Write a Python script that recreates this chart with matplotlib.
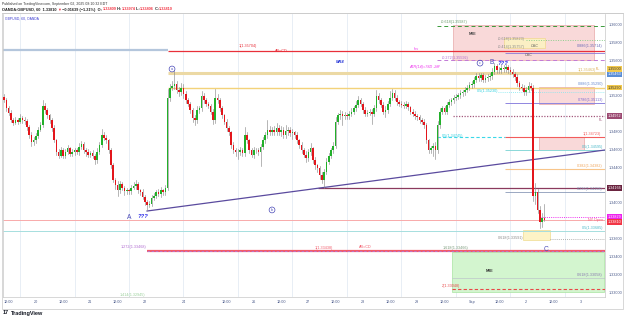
import matplotlib
matplotlib.use("Agg")
import matplotlib.pyplot as plt
import matplotlib.transforms as mtransforms
from matplotlib.patches import Rectangle
from matplotlib.lines import Line2D
import pandas as pd

plt.rcParams['font.family'] = ['Liberation Sans', 'DejaVu Sans']

# ------------------------------------------------------------------ data
# hourly bars (New York time, weekend gaps removed)
bar_times = (list(pd.date_range("2025-08-19 10:00", "2025-08-22 16:00", freq="h"))
             + list(pd.date_range("2025-08-24 17:00", "2025-08-29 16:00", freq="h"))
             + list(pd.date_range("2025-08-31 17:00", "2025-09-03 13:00", freq="h")))
bar_index = {t: i for i, t in enumerate(bar_times)}

first_open = 1.3519
closes = [
    1.3515, 1.3506, 1.3501, 1.3493, 1.3490, 1.3493, 1.3491, 1.3495, 1.3493, 1.3492,
    1.3485, 1.3476, 1.3468, 1.3470, 1.3475, 1.3482, 1.3487, 1.3509, 1.3504, 1.3498,
    1.3493, 1.3484, 1.3470, 1.3457, 1.3453, 1.3459, 1.3453, 1.3457, 1.3461, 1.3455,
    1.3457, 1.3459, 1.3457, 1.3463, 1.3466, 1.3459, 1.3457, 1.3454, 1.3456, 1.3453,
    1.3448, 1.3457, 1.3465, 1.3476, 1.3473, 1.3470, 1.3459, 1.3442, 1.3426, 1.3420,
    1.3414, 1.3421, 1.3417, 1.3413, 1.3414, 1.3413, 1.3417, 1.3419, 1.3421, 1.3414,
    1.3412, 1.3407, 1.3401, 1.3398, 1.3399, 1.3405, 1.3408, 1.3412, 1.3410, 1.3414,
    1.3412, 1.3417, 1.3518, 1.3529, 1.3531, 1.3533, 1.3527, 1.3524, 1.3529, 1.3522,
    1.3515, 1.3511, 1.3504, 1.3495, 1.3493, 1.3504, 1.3506, 1.3520, 1.3515, 1.3511,
    1.3509, 1.3502, 1.3493, 1.3518, 1.3515, 1.3506, 1.3498, 1.3491, 1.3484, 1.3479,
    1.3465, 1.3459, 1.3457, 1.3457, 1.3459, 1.3456, 1.3476, 1.3470, 1.3459, 1.3454,
    1.3459, 1.3459, 1.3457, 1.3463, 1.3470, 1.3476, 1.3482, 1.3479, 1.3482, 1.3479,
    1.3484, 1.3479, 1.3482, 1.3476, 1.3481, 1.3482, 1.3478, 1.3479, 1.3476, 1.3470,
    1.3465, 1.3459, 1.3454, 1.3450, 1.3457, 1.3461, 1.3448, 1.3442, 1.3439, 1.3431,
    1.3426, 1.3435, 1.3446, 1.3453, 1.3459, 1.3464, 1.3491, 1.3498, 1.3500, 1.3497,
    1.3498, 1.3497, 1.3500, 1.3502, 1.3506, 1.3510, 1.3515, 1.3511, 1.3504, 1.3500,
    1.3501, 1.3502, 1.3500, 1.3506, 1.3520, 1.3515, 1.3510, 1.3502, 1.3504, 1.3511,
    1.3518, 1.3523, 1.3518, 1.3513, 1.3511, 1.3510, 1.3509, 1.3511, 1.3507, 1.3502,
    1.3500, 1.3497, 1.3496, 1.3493, 1.3491, 1.3487, 1.3470, 1.3459, 1.3461, 1.3464,
    1.3459, 1.3487, 1.3502, 1.3506, 1.3502, 1.3510, 1.3513, 1.3515, 1.3518, 1.3519,
    1.3521, 1.3523, 1.3524, 1.3527, 1.3529, 1.3532, 1.3533, 1.3538, 1.3542, 1.3540,
    1.3543, 1.3538, 1.3540, 1.3541, 1.3542, 1.3547, 1.3553, 1.3549, 1.3549, 1.3551,
    1.3550, 1.3552, 1.3549, 1.3547, 1.3544, 1.3541, 1.3534, 1.3530, 1.3529, 1.3524,
    1.3527, 1.3531, 1.3529, 1.3408, 1.3412, 1.3392, 1.3379, 1.3383, 1.3381,
]
# wick lengths in pips beyond the candle body
wick_up = [
    3, 2, 2, 3, 2, 3, 2, 4, 2, 3, 2, 2, 3, 4, 3, 3, 4, 6, 3, 2,
    2, 2, 3, 2, 3, 4, 2, 3, 4, 2, 3, 2, 3, 4, 3, 2, 2, 3, 2, 3,
    2, 4, 3, 7, 3, 3, 2, 2, 3, 2, 4, 3, 2, 2, 3, 2, 3, 4, 5, 2,
    2, 3, 2, 2, 3, 4, 3, 2, 3, 4, 2, 3, 10, 4, 5, 16, 4, 3, 5, 4,
    3, 3, 2, 2, 3, 4, 3, 5, 3, 3, 2, 2, 3, 10, 4, 3, 2, 2, 3, 2,
    2, 3, 2, 3, 4, 3, 9, 3, 2, 2, 4, 3, 2, 3, 4, 3, 11, 4, 3, 4,
    5, 3, 4, 3, 6, 3, 3, 4, 2, 3, 2, 3, 2, 4, 3, 6, 2, 3, 2, 2,
    3, 3, 4, 3, 3, 4, 5, 3, 4, 3, 4, 3, 3, 4, 3, 4, 5, 3, 2, 3,
    3, 3, 3, 4, 7, 3, 2, 3, 4, 3, 7, 5, 3, 3, 2, 3, 3, 3, 2, 2,
    3, 3, 2, 2, 2, 3, 2, 2, 3, 3, 4, 5, 4, 3, 3, 3, 3, 3, 3, 3,
    2, 3, 3, 3, 3, 3, 3, 3, 4, 4, 3, 3, 3, 3, 3, 4, 4, 3, 3, 5,
    3, 4, 3, 3, 3, 3, 3, 2, 3, 3, 3, 4, 3, 3, 10, 4, 4, 6, 16,
]
wick_dn = [
    2, 3, 3, 2, 3, 2, 3, 2, 3, 4, 3, 3, 4, 3, 3, 2, 2, 2, 3, 3,
    3, 3, 2, 3, 3, 2, 3, 3, 2, 3, 2, 3, 2, 3, 3, 3, 4, 3, 3, 3,
    4, 3, 2, 2, 3, 3, 3, 3, 3, 4, 6, 3, 3, 4, 3, 3, 3, 2, 3, 3,
    3, 3, 3, 6, 3, 3, 2, 3, 2, 3, 3, 3, 3, 4, 3, 3, 4, 4, 3, 4,
    3, 3, 3, 4, 6, 3, 3, 3, 3, 3, 3, 3, 5, 3, 3, 3, 3, 3, 3, 3,
    3, 3, 4, 8, 3, 3, 3, 3, 3, 3, 4, 3, 3, 16, 3, 3, 3, 3, 3, 3,
    3, 3, 4, 3, 3, 5, 3, 6, 3, 3, 3, 3, 3, 4, 3, 3, 3, 4, 5, 4,
    4, 9, 3, 3, 3, 3, 3, 3, 4, 10, 3, 3, 3, 3, 3, 3, 3, 3, 3, 3,
    3, 3, 12, 3, 3, 3, 3, 3, 6, 3, 3, 3, 3, 3, 3, 3, 3, 3, 3, 3,
    3, 3, 3, 3, 3, 3, 3, 3, 3, 9, 10, 3, 3, 3, 3, 3, 3, 3, 3, 3,
    3, 3, 3, 3, 3, 3, 3, 3, 3, 3, 3, 3, 3, 3, 3, 3, 3, 3, 3, 3,
    3, 3, 3, 3, 3, 3, 3, 3, 3, 3, 3, 3, 3, 6, 9, 3, 7, 6, 1,
]

tick_times = ["2025-08-19 12:00", "2025-08-20 00:00", "2025-08-20 12:00", "2025-08-21 00:00",
              "2025-08-21 12:00", "2025-08-22 00:00", "2025-08-24 17:00", "2025-08-25 12:00",
              "2025-08-26 00:00", "2025-08-26 12:00", "2025-08-27 00:00", "2025-08-27 12:00",
              "2025-08-28 00:00", "2025-08-28 12:00", "2025-08-29 00:00", "2025-08-29 12:00",
              "2025-09-01 00:00", "2025-09-01 12:00", "2025-09-02 00:00", "2025-09-02 12:00",
              "2025-09-03 00:00"]
tick_labels = ["12:00", "20", "12:00", "21", "12:00", "22", "24", "12:00", "26", "12:00",
               "27", "12:00", "28", "12:00", "29", "12:00", "Sep", "12:00", "2", "12:00", "3"]
grid_times = ["2025-08-19 17:00", "2025-08-20 17:00", "2025-08-21 17:00", "2025-08-24 17:00",
              "2025-08-25 17:00", "2025-08-26 17:00", "2025-08-27 17:00", "2025-08-28 17:00",
              "2025-08-31 17:00", "2025-09-01 17:00", "2025-09-02 17:00"]

price_ticks = [1.360, 1.358, 1.356, 1.352, 1.348, 1.346, 1.344, 1.340, 1.336, 1.334, 1.332, 1.330]
axis_tags = [(1.3550, "1.35500", "#f2c94c", "#333333"),
             (1.3544, "1.35463", "#5b8ed6", "white"),
             (1.3529, "1.35290", "#f2c94c", "#333333"),
             (1.34972, "1.34972", "#9c4a72", "white"),
             (1.34166, "1.34166", "#6b2440", "white"),
             (1.33841, "1.33829", "#ee22ee", "white"),
             (1.33785, "1.33810", "#f23645", "white")]

# ------------------------------------------------------------------ figure
W, H = 625, 319
fig = plt.figure(figsize=(W / 100, H / 100), dpi=100)
fig.patch.set_facecolor("white")


def fx(px):
    return px / W


def fy(py):
    return 1 - py / H


ax = fig.add_axes([fx(3), fy(297), fx(605) - fx(3), fy(14) - fy(297)])
ax.set_xlim(-0.5, 264.7)
ax.set_ylim(1.329441, 1.361166)

for t in grid_times:
    ax.axvline(bar_index[pd.Timestamp(t)], color="#e4ebf4", lw=0.6, zorder=0)

# ---- drawings behind the candles
abx = lambda px: (px - 4.1) / 2.27   # chart pixel column -> bar position

boxes = [  # (x0, x1, bottom, top, face, edge)
    (453, 594, 1.35601, 1.35993, "#f9d9d9", "#e8a8a8"),
    (504, 545, 1.35736, 1.35848, "#fbefc4", "#f0d890"),
    (539, 594, 1.35108, 1.35298, "#f9d9d9", "#e8a8a8"),
    (539, 584, 1.34592, 1.34738, "#f9d9d9", "#e8a8a8"),
    (523, 550, 1.33583, 1.33695, "#fdf3c6", "#f0dc90"),
    (452, 604, 1.33000, 1.33449, "#d3f5cf", "#a8e4a0"),
]
for x0, x1, b, t, fc, ec in boxes:
    ax.add_patch(Rectangle((abx(x0), b), abx(x1) - abx(x0), t - b, fc=fc, ec=ec, lw=0.5, zorder=1))

levels = [  # (x0, x1, price, color, lw, linestyle)
    (3, 168, 1.35713, "#b4c6dc", 1.6, "-"),
    (168, 605, 1.35704, "#e8303a", 0.9, "-"),
    (505, 605, 1.35680, "#8a7ad6", 0.6, "-"),
    (437, 605, 1.35987, "#3a9a3a", 0.7, (0, (4, 3))),
    (526, 605, 1.35823, "#8ccf8c", 0.7, (0, (1, 1.5))),
    (437, 605, 1.35600, "#c27ad6", 0.7, (0, (4, 3))),
    (168, 605, 1.35460, "#ecd9a4", 2.2, "-"),
    (168, 605, 1.35290, "#f3d27a", 1.0, "-"),
    (498, 605, 1.35242, "#7de8f0", 0.6, (0, (1, 1.5))),
    (505, 605, 1.35119, "#8f86e0", 0.7, "-"),
    (453, 605, 1.34973, "#a2587c", 0.9, (0, (1, 1.2))),
    (437, 505, 1.34738, "#3ad8e8", 0.8, (0, (3, 2))),
    (505, 605, 1.34738, "#f25c5c", 0.8, "-"),
    (505, 605, 1.34592, "#8ad8d8", 0.7, "-"),
    (505, 605, 1.34379, "#f8c58a", 0.8, "-"),
    (318, 605, 1.34166, "#8b3a5e", 0.9, "-"),
    (505, 605, 1.34121, "#8a9ab8", 0.6, "-"),
    (540, 605, 1.33841, "#ee33ee", 0.7, (0, (1, 1.2))),
    (3, 605, 1.33810, "#f8aaaa", 0.7, "-"),
    (3, 605, 1.33684, "#a6dede", 0.7, "-"),
    (550, 605, 1.33594, "#9a9a9a", 0.6, (0, (1, 1.5))),
    (147, 605, 1.33460, "#f25a6a", 1.6, "-"),
    (147, 605, 1.33460, "#b57ad6", 0.6, (0, (3, 2))),
    (452, 605, 1.33157, "#b8b8c8", 0.4, "-"),
    (452, 605, 1.33034, "#e84848", 0.8, (0, (3, 2))),
]
for x0, x1, p, c, lw, ls in levels:
    ax.plot([abx(x0), abx(x1)], [p, p], color=c, lw=lw, ls=ls, zorder=2, solid_capstyle="butt")

# trend line under the lows
trend_x = [abx(147), abx(605)]
trend_y = [1.33908, 1.34592]
ax.plot(trend_x, trend_y, color="#5a4a9e", lw=0.9, zorder=2)

# ---- candles
opens = [first_open] + closes[:-1]
for i, (o, c) in enumerate(zip(opens, closes)):
    hi = max(o, c) + wick_up[i] * 1e-4
    lo = min(o, c) - wick_dn[i] * 1e-4
    col = "#22b02a" if c >= o else "#e3161c"
    ax.plot([i, i], [lo, hi], color="#8c8c8c", lw=0.45, zorder=3)
    ax.bar(i, max(abs(c - o), 0.00004), bottom=min(o, c), width=0.7, color=col, lw=0, zorder=4)

# ---- text on drawings
fs = 2.7
txt = [  # (px, price, text, color, ha, va)
    (257, 1.35730, "1(1.35704)", "#e8303a", "right", "bottom"),
    (281, 1.35704, "AB=CD", "#e8303a", "center", "center"),
    (416, 1.35725, "Inv", "#ee33ee", "center", "center"),
    (468, 1.36003, "-0.618(1.35987)", "#6a9a6a", "right", "bottom"),
    (525, 1.35840, "-0.618(1.35823)", "#8a8a8a", "right", "center"),
    (525, 1.35745, "-0.414(1.35757)", "#8a8a8a", "right", "center"),
    (469, 1.35625, "-0.272(1.35592)", "#b06ad0", "right", "center"),
    (603, 1.35730, "0.886(1.35714)", "#6a6ab8", "right", "bottom"),
    (596, 1.35470, "1(1.35463)", "#d8b45a", "right", "bottom"),
    (603, 1.35305, "0.886(1.35290)", "#6a8ad0", "right", "bottom"),
    (498, 1.35255, "0.5(1.35230)", "#2ad0e0", "right", "center"),
    (603, 1.35130, "0.786(1.35113)", "#7a6ad0", "right", "bottom"),
    (603, 1.34955, "FL", "#a2587c", "right", "top"),
    (600, 1.35500, "FL", "#e0a040", "right", "center"),
    (463, 1.34750, "0.5(1.34745)", "#2ad0e0", "right", "center"),
    (601, 1.34750, "1(1.34723)", "#f25c5c", "right", "bottom"),
    (603, 1.34605, "0.5(1.34595)", "#4ab8c8", "right", "bottom"),
    (603, 1.34392, "0.382(1.34382)", "#f0a860", "right", "bottom"),
    (603, 1.34130, "0.236(1.34158)", "#7a8ab0", "right", "bottom"),
    (603, 1.33830, "NY Open", "#f25c7c", "right", "top"),
    (603, 1.33697, "0.5(1.33685)", "#4ab8c8", "right", "bottom"),
    (523, 1.33605, "0.618(1.33591)", "#8a8a8a", "right", "center"),
    (146, 1.33480, "1.272(1.33468)", "#b06ad0", "right", "bottom"),
    (333, 1.33472, "1(1.33438)", "#f25a6a", "right", "bottom"),
    (365, 1.33480, "AB=CD", "#f25a6a", "center", "bottom"),
    (468, 1.33472, "1.618(1.33466)", "#7a9a7a", "right", "bottom"),
    (603, 1.33168, "0.618(1.33058)", "#8a7ab0", "right", "bottom"),
    (460, 1.33048, "2(1.33048)", "#e84848", "right", "bottom"),
    (145, 1.32948, "1.414(1.32945)", "#9ad09a", "right", "bottom"),
]
for px, p, s, c, ha, va in txt:
    ax.text(abx(px), p, s, color=c, fontsize=fs, ha=ha, va=va, zorder=6)

ax.text(abx(473), 1.35890, "NRE", color="#444444", fontsize=2.6, fontweight="bold", ha="center", va="center")
ax.text(abx(535), 1.35760, "OSC", color="#555555", fontsize=2.6, style="italic", ha="center", va="center")
ax.text(abx(529), 1.35655, "OSC", color="#555555", fontsize=2.6, style="italic", ha="center", va="center")
ax.text(abx(490), 1.33234, "NRE", color="#333333", fontsize=2.6, fontweight="bold", ha="center", va="center")
ax.text(abx(340), 1.35578, "MR4", color="#2a3ad8", fontsize=3, fontweight="bold", style="italic", ha="center", va="center")
ax.text(abx(424), 1.35522, "ATR(14)=78D .2fff", color="#ee33ee", fontsize=2.7, style="italic", ha="center", va="center")

# wave labels
wave = "#4a4ab8"
ax.text(abx(129), 1.33830, "A", color=wave, fontsize=4.8, ha="center", va="center")
ax.text(abx(143), 1.33842, "???", color="#2a2ae8", fontsize=4.2, fontweight="bold", style="italic", ha="center", va="center")
ax.text(abx(492), 1.35578, "B", color=wave, fontsize=4.8, ha="center", va="center")
ax.text(abx(503), 1.35566, "???", color="#2a2ae8", fontsize=4.2, fontweight="bold", style="italic", ha="center", va="center")
ax.text(abx(546), 1.33471, "C", color=wave, fontsize=4.8, ha="center", va="center")
for px, p, s in [(172, 1.35500, "a"), (272, 1.33920, "b"), (480, 1.35566, "c")]:
    ax.text(abx(px), p, s, color=wave, fontsize=2.6, ha="center", va="center",
            bbox=dict(boxstyle="circle,pad=0.25", fc="none", ec=wave, lw=0.5))

# ---- axes styling
ax.set_xticks([bar_index[pd.Timestamp(t)] for t in tick_times])
ax.set_xticklabels(tick_labels)
ax.yaxis.tick_right()
ax.set_yticks(price_ticks)
ax.set_yticklabels(["%.5f" % p for p in price_ticks])
ax.tick_params(axis="both", length=0, labelsize=2.7, labelcolor="#4a5a8a")
ax.tick_params(axis="x", pad=2.2)
ax.tick_params(axis="y", pad=2.5)
for s in ax.spines.values():
    s.set_color("#c8c8c8")
    s.set_linewidth(0.5)
ax.spines["top"].set_visible(False)

bt = mtransforms.blended_transform_factory(ax.transAxes, ax.transData)
for p, s, bg, fg in axis_tags:
    ax.text(1.004, p, s, transform=bt, fontsize=2.7, color=fg, ha="left", va="center",
            bbox=dict(boxstyle="square,pad=0.2", fc=bg, ec="none"), clip_on=False)

# ---- frame, header and footer
fig.add_artist(Rectangle((fx(2), fy(309)), fx(623) - fx(2), fy(13) - fy(309),
                         fill=False, ec="#c8c8c8", lw=0.5, transform=fig.transFigure))
fig.add_artist(Line2D([fx(2), fx(623)], [fy(13), fy(13)], color="#c8c8c8", lw=0.5))

fig.text(fx(5), fy(19), "GBPUSD, 60, OANDA", fontsize=2.4, color="#3a3ad0", va="center")
fig.text(fx(2), fy(3.5), "Published on TradingView.com, September 02, 2025 08:10:32 EDT",
         fontsize=2.5, color="#333333", va="center")

renderer = fig.canvas.get_renderer()
x = fx(2)
pieces = [("OANDA:GBPUSD, 60  1.33810 ", "#222222"), ("\u25bc", "#f23645"),
          (" \u22120.01639 (\u22121.21%)  O:", "#222222"), ("1.33809", "#f23645"), (" H:", "#222222"),
          ("1.33974", "#f23645"), (" L:", "#222222"), ("1.33806", "#f23645"), (" C:", "#222222"),
          ("1.33810", "#f23645")]
for s, c in pieces:
    t = fig.text(x, fy(9.5), s, fontsize=2.8, color=c, va="center", fontweight="bold")
    bb = t.get_window_extent(renderer=renderer)
    x += bb.width / (W)

fig.text(fx(3), fy(313), "17", fontsize=4, fontweight="bold", color="#131722", va="center")
fig.text(fx(11), fy(313), "TradingView", fontsize=4, fontweight="bold", color="#131722", va="center")

fig.savefig("out.png", dpi=100)
